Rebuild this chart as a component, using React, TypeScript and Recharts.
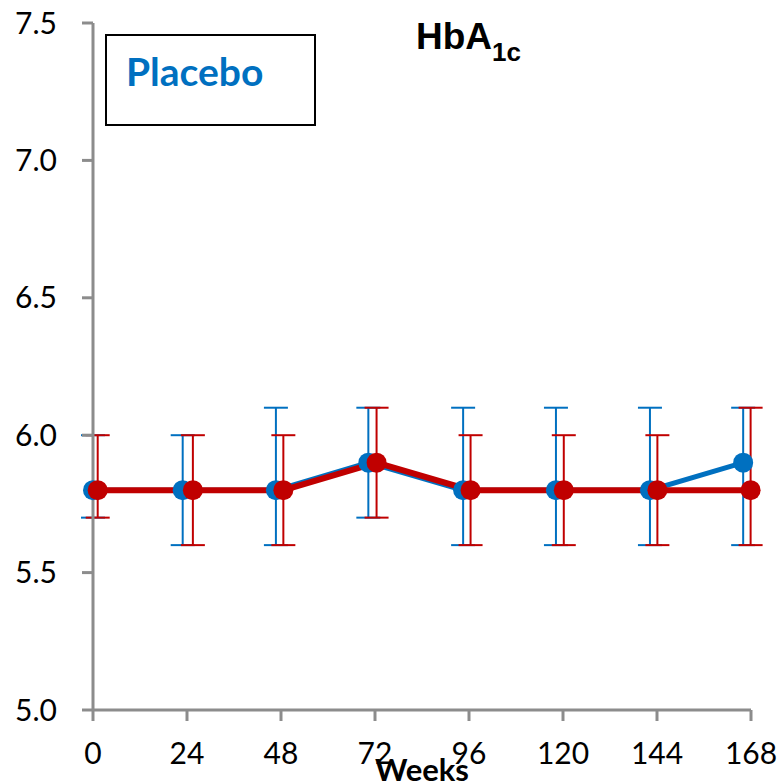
import { LineChart, Line, XAxis, YAxis, ErrorBar, Legend, Label } from "recharts";

// x-axis ticks and y-axis ticks
const weeks = [0, 24, 48, 72, 96, 120, 144, 168];
const yTicks = [5.0, 5.5, 6.0, 6.5, 7.0, 7.5];

// placebo (blue), plotted slightly left of each visit
const placeboWeeks = [0, 22.9, 46.7, 70.3, 94.5, 118.2, 142.2, 166.0];
const placeboMean = [5.8, 5.8, 5.8, 5.9, 5.8, 5.8, 5.8, 5.9];
const placeboLow = [5.7, 5.6, 5.6, 5.7, 5.6, 5.6, 5.6, 5.6];
const placeboHigh = [6.0, 6.0, 6.1, 6.1, 6.1, 6.1, 6.1, 6.1];

// active arm (red)
const activeWeeks = [1.2, 25.5, 48.6, 72.4, 96.4, 120.2, 144.1, 167.9];
const activeMean = [5.8, 5.8, 5.8, 5.9, 5.8, 5.8, 5.8, 5.8];
const activeLow = [5.7, 5.6, 5.6, 5.7, 5.6, 5.6, 5.6, 5.6];
const activeHigh = [6.0, 6.0, 6.0, 6.1, 6.0, 6.0, 6.0, 6.1];

const BLUE = "#0070C0";
const RED = "#C00000";
const AXIS = "#8c8c8c";

const rows = (xs: number[], mean: number[], lo: number[], hi: number[]) =>
  xs.map((x, i) => ({ week: x, value: mean[i], err: [mean[i] - lo[i], hi[i] - mean[i]] }));

const placeboRows = rows(placeboWeeks, placeboMean, placeboLow, placeboHigh);
const activeRows = rows(activeWeeks, activeMean, activeLow, activeHigh);

const tickStyle = { fill: "#000", fontSize: 30, fontFamily: "Lato, sans-serif" };

function LegendBox() {
  return (
    <div
      style={{
        width: 207,
        height: 88,
        border: "2px solid #000",
        boxSizing: "content-box",
        background: "#fff",
        position: "relative",
      }}
    >
      <span
        style={{
          position: "absolute",
          left: 19,
          top: 13,
          color: BLUE,
          fontFamily: "Lato, sans-serif",
          fontWeight: 700,
          fontSize: 39,
          lineHeight: "44px",
        }}
      >
        Placebo
      </span>
    </div>
  );
}

export default function App() {
  return (
    <div style={{ position: "absolute", left: 0, top: 0, width: 780, height: 783, background: "#fff" }}>
      <LineChart width={780} height={783} margin={{ top: 23, right: 29, left: 0, bottom: 0 }}>
        <XAxis
          type="number"
          dataKey="week"
          domain={[0, 168]}
          ticks={weeks}
          interval={0}
          height={73}
          tickSize={11}
          tickMargin={22}
          tick={tickStyle}
          axisLine={{ stroke: AXIS, strokeWidth: 3 }}
          tickLine={{ stroke: AXIS, strokeWidth: 3 }}
        >
          <Label
            value="Weeks"
            position="insideBottom"
            offset={2}
            style={{ fill: "#000", fontSize: 31, fontWeight: 700, fontFamily: "Lato, sans-serif" }}
          />
        </XAxis>
        <YAxis
          type="number"
          domain={[5, 7.5]}
          ticks={yTicks}
          interval={0}
          width={93}
          tickSize={11}
          tickMargin={25}
          tickFormatter={(v: number) => v.toFixed(1)}
          tick={tickStyle}
          axisLine={{ stroke: AXIS, strokeWidth: 3 }}
          tickLine={{ stroke: AXIS, strokeWidth: 3 }}
        />
        <Legend
          layout="vertical"
          align="center"
          verticalAlign="middle"
          wrapperStyle={{ left: 105, top: 34, width: 211, height: 92 }}
          content={() => <LegendBox />}
        />
        <Line
          data={placeboRows}
          dataKey="value"
          name="Placebo"
          stroke={BLUE}
          strokeWidth={5}
          dot={{ r: 10, fill: BLUE, stroke: BLUE, strokeWidth: 0 }}
          isAnimationActive={false}
        >
          <ErrorBar dataKey="err" direction="y" width={12} stroke={BLUE} strokeWidth={2} />
        </Line>
        <Line
          data={activeRows}
          dataKey="value"
          name="Active"
          stroke={RED}
          strokeWidth={6}
          dot={{ r: 10, fill: RED, stroke: RED, strokeWidth: 0 }}
          isAnimationActive={false}
        >
          <ErrorBar dataKey="err" direction="y" width={12} stroke={RED} strokeWidth={2} />
        </Line>
      </LineChart>
      <svg
        width={780}
        height={783}
        style={{ position: "absolute", left: 0, top: 0, pointerEvents: "none" }}
      >
        <text x={416} y={49} fontFamily="'Liberation Sans', Arial, sans-serif" fontWeight={700} fontSize={37} fill="#000">
          HbA
          <tspan dy={12} fontSize={26}>1c</tspan>
        </text>
      </svg>
    </div>
  );
}
